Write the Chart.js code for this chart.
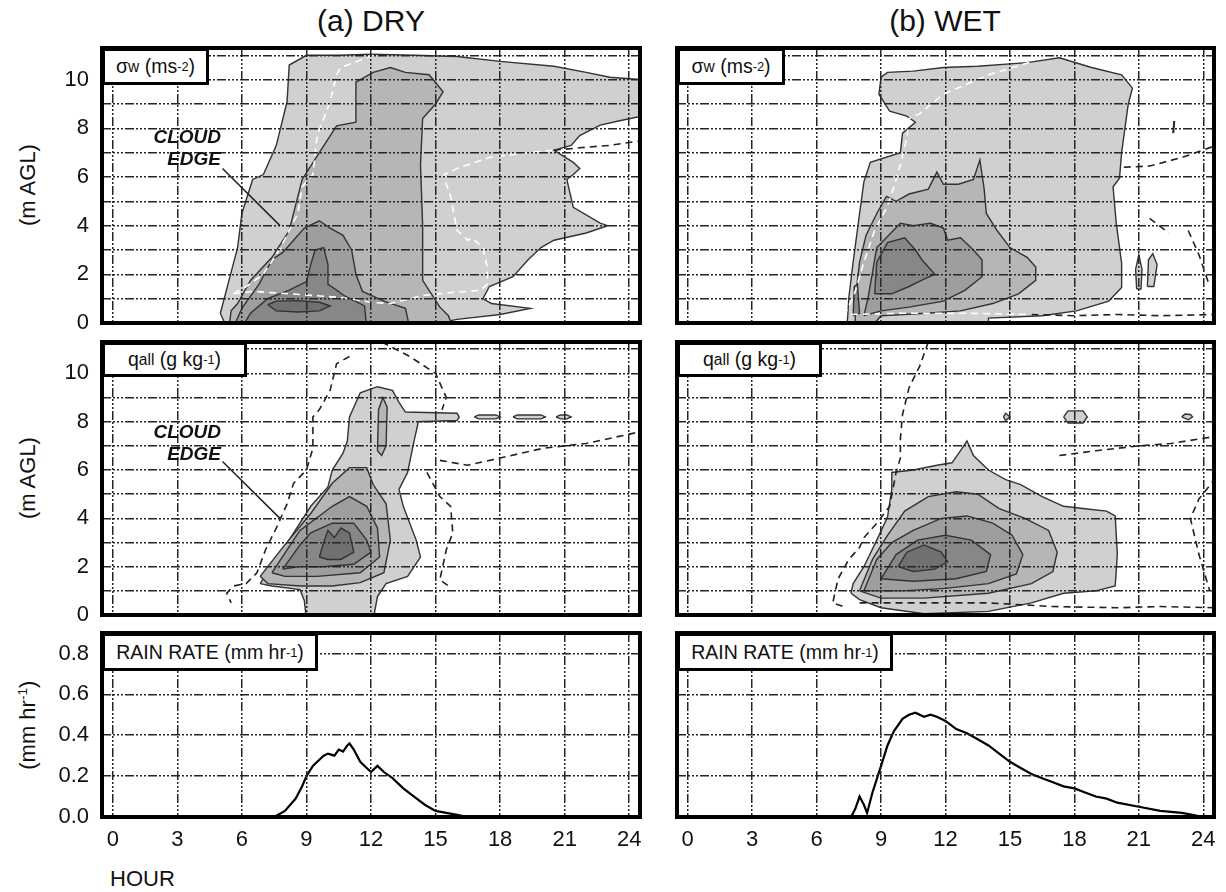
<!DOCTYPE html>
<html>
<head>
<meta charset="utf-8">
<script src="https://cdn.jsdelivr.net/npm/chart.js@4.4.1/dist/chart.umd.min.js"></script>
<style>
  body { margin: 0; background: #fff; width: 1226px; height: 892px; position: relative; overflow: hidden;
         font-family: "Liberation Sans", Arial, sans-serif; color: #111; }
  canvas { position: absolute; }
  .title { position: absolute; font-size: 30px; width: 400px; text-align: center; }
  .ytitle { position: absolute; font-size: 22px; width: 200px; text-align: center; transform: rotate(-90deg); }
  .ytitle sup { font-size: 0.62em; }
  .box { position: absolute; background: #fff; border: 3px solid #000; box-sizing: border-box; z-index: 2;
         font-size: 19.5px; display: flex; align-items: center; justify-content: center; white-space: nowrap; }
  .box sub { font-size: 0.8em; vertical-align: -0.3em; }
  .box sup { font-size: 0.66em; vertical-align: 0.5em; }
  .cloud { position: absolute; font-weight: bold; font-style: italic; font-size: 19px; line-height: 22px;
           text-align: right; width: 90px; z-index: 2; }
  .hour { position: absolute; font-size: 22px; }
</style>
</head>
<body>
<div class="title" style="left:171px;top:4px">(a) DRY</div>
<div class="title" style="left:745px;top:4px">(b) WET</div>
<div class="ytitle" style="left:-72px;top:172px">(m AGL)</div>
<div class="ytitle" style="left:-72px;top:465px">(m AGL)</div>
<div class="ytitle" style="left:-72px;top:712px">(mm hr<sup>-1</sup>)</div>

<div class="box" style="left:102px;top:48px;width:107px;height:37px">σ<sub>w</sub>&nbsp;(ms<sup>-2</sup>)</div>
<div class="box" style="left:677px;top:48px;width:108px;height:37px">σ<sub>w</sub>&nbsp;(ms<sup>-2</sup>)</div>
<div class="box" style="left:102px;top:342px;width:145px;height:35px">q<sub>all</sub>&nbsp;(g kg<sup>-1</sup>)</div>
<div class="box" style="left:677px;top:342px;width:145px;height:35px">q<sub>all</sub>&nbsp;(g kg<sup>-1</sup>)</div>
<div class="box" style="left:102px;top:633px;width:216px;height:38px">RAIN RATE (mm hr<sup>-1</sup>)</div>
<div class="box" style="left:677px;top:633px;width:216px;height:38px">RAIN RATE (mm hr<sup>-1</sup>)</div>

<div class="cloud" style="left:131px;top:126px">CLOUD<br>EDGE</div>
<div class="cloud" style="left:131px;top:421px">CLOUD<br>EDGE</div>
<div class="hour" style="left:110px;top:866px">HOUR</div>

<canvas id="sigDry" style="left:0;top:40px" width="660" height="290"></canvas>
<canvas id="sigWet" style="left:660px;top:40px" width="566" height="290"></canvas>
<canvas id="qDry" style="left:0;top:334px" width="660" height="288"></canvas>
<canvas id="qWet" style="left:660px;top:334px" width="566" height="288"></canvas>
<canvas id="rainDryC" style="left:0;top:625px" width="660" height="240"></canvas>
<canvas id="rainWetC" style="left:660px;top:625px" width="566" height="240"></canvas>

<script>
// axes
const xTicks = [0, 3, 6, 9, 12, 15, 18, 21, 24];
const zTicks = [0, 1, 2, 3, 4, 5, 6, 7, 8, 9, 10, 11];
const rainTicks = [0, 0.2, 0.4, 0.6, 0.8];

// rain rate (mm/hr) vs hour
const rainHoursDry = [0, 7.0, 7.5, 8.0, 8.5, 8.8, 9.0, 9.3, 9.6, 9.8, 10.0, 10.3, 10.5, 10.7, 10.9, 11.0, 11.2, 11.5, 11.8, 12.0, 12.3, 12.6, 13.0, 13.5, 14.0, 14.5, 15.0, 15.5, 16.0, 16.5, 24];
const rainDry      = [0, 0, 0, 0.03, 0.09, 0.15, 0.2, 0.25, 0.28, 0.3, 0.31, 0.3, 0.33, 0.32, 0.35, 0.36, 0.33, 0.27, 0.24, 0.22, 0.25, 0.22, 0.19, 0.14, 0.1, 0.06, 0.03, 0.02, 0.01, 0, 0];
const rainHoursWet = [0, 7.6, 7.8, 8.0, 8.2, 8.35, 8.6, 9.0, 9.3, 9.6, 10.0, 10.3, 10.6, 11.0, 11.3, 11.6, 12.0, 12.5, 13.0, 13.5, 14.0, 14.5, 15.0, 15.5, 16.0, 16.5, 17.0, 17.5, 18.0, 18.5, 19.0, 19.5, 20.0, 21.0, 22.0, 23.0, 23.5, 24];
const rainWet      = [0, 0, 0.04, 0.1, 0.06, 0.02, 0.12, 0.25, 0.35, 0.42, 0.48, 0.5, 0.51, 0.49, 0.5, 0.49, 0.47, 0.43, 0.41, 0.38, 0.35, 0.31, 0.27, 0.24, 0.21, 0.19, 0.17, 0.15, 0.14, 0.12, 0.1, 0.09, 0.07, 0.05, 0.03, 0.02, 0.01, 0];

// contour polygons [hour, height km], outer level first
const sigDryL1 = [[5.3,-0.2],[5.0,0.4],[5.4,1.75],[5.8,3.1],[6.0,4.5],[6.5,5.9],[7.0,6.1],[7.6,7.3],[8.1,9.1],[8.2,10.6],[9.0,11.0],[10.5,11.0],[12.0,11.05],[14,11.0],[16,10.95],[18,10.75],[20.5,10.55],[22,10.3],[23.1,10.1],[24.6,10.0],[24.6,8.5],[23.5,8.3],[22.65,8.13],[21.7,7.7],[21.3,7.3],[20.5,7.1],[21.4,6.6],[21.7,6.35],[21.4,6.1],[21.1,5.9],[21.4,4.75],[22.65,4.1],[23.0,4.0],[22.0,3.7],[20.5,3.4],[19.9,3.1],[19.3,2.6],[18.6,1.9],[17.5,1.5],[17.2,1.0],[17.6,0.8],[19.4,0.6],[18,0.35],[16,0.15],[14,-0.2]];
const sigDryL2 = [[5.4,-0.2],[5.5,0.5],[5.8,0.8],[6.4,1.75],[7.4,2.7],[8.2,3.8],[8.8,5.9],[9.6,7.0],[10.4,8.1],[11.3,8.25],[11.3,9.9],[12.1,10.3],[12.9,10.5],[13.6,10.3],[14.7,10.2],[15.35,9.5],[15.0,9.0],[14.4,8.4],[14.3,6.5],[14.4,4.0],[14.4,1.75],[15.2,0.65],[15.6,0.3],[15.8,-0.2]];
const sigDryCol = [[12.7,2.0],[12.6,5.0],[12.8,8.3],[13.0,8.6],[13.2,8.2],[13.3,5.0],[13.2,2.5],[13.0,2.0]];
const sigDryL3 = [[5.6,-0.2],[6.0,0.6],[6.8,1.6],[7.4,2.6],[7.9,2.9],[8.3,3.3],[8.9,3.9],[9.6,4.2],[10.1,3.9],[10.7,3.6],[11.1,3.0],[11.3,2.0],[11.6,1.3],[12.6,0.9],[13.6,0.6],[13.8,-0.2]];
const sigDryL4 = [[6.0,-0.2],[6.4,0.4],[7.2,1.0],[8.2,1.35],[9.0,1.7],[9.2,2.4],[9.4,3.0],[9.8,3.1],[10.0,2.4],[10.0,1.6],[10.8,1.1],[11.7,0.7],[11.8,-0.2]];
const sigDryL5 = [[7.2,0.75],[7.6,0.9],[8.6,0.92],[9.6,0.85],[10.1,0.7],[9.6,0.5],[8.6,0.45],[7.6,0.5]];
const sigDryEdgeA = [[12.1,11.0],[10.6,10.5],[10.4,10.2],[10.1,9.1],[9.5,7.7],[9.3,6.1],[8.8,5.6],[8.6,4.5],[7.8,3.1],[7.0,2.0],[6.2,1.5],[5.6,1.2]];
const sigDryEdgeB = [[5.6,1.2],[6.5,1.3],[8.2,1.2],[10.6,1.05],[12.1,0.84],[12.9,0.8],[14.4,1.13],[15.7,1.25],[17.1,1.34],[17.4,1.6],[17.4,2.3],[17.2,3.1],[16.7,3.5],[16.5,3.4],[16.0,3.8],[15.7,5.2],[15.5,5.7],[15.4,6.1],[16.0,6.35],[17.5,6.8],[19.3,7.0],[20.5,7.1]];
const sigDryDashA = [[20.5,7.1],[21.7,7.2],[23.1,7.3],[24.6,7.5]];

const sigWetL1 = [[7.4,-0.2],[7.45,0.3],[7.5,1.05],[7.7,2.5],[8.0,4.5],[8.2,5.8],[8.5,6.6],[9.9,7.0],[10.0,7.8],[10.6,8.25],[10.2,8.5],[9.4,8.7],[8.9,9.4],[9.0,10.1],[9.3,10.3],[10.5,10.35],[11.9,10.5],[13.5,10.55],[15.8,10.7],[17.3,10.9],[18.8,10.5],[20.2,10.2],[20.7,9.65],[20.5,8.95],[20.2,7.0],[20.1,5.95],[19.8,5.6],[19.95,4.1],[20.2,2.45],[20.2,1.46],[19.6,0.9],[18.1,0.5],[16.5,0.3],[14,0.2],[14,-0.2]];
const sigWetL2 = [[7.8,-0.2],[7.8,1.0],[8.0,2.5],[8.3,3.6],[8.8,4.5],[9.25,5.2],[9.7,5.0],[10.3,5.3],[11.2,5.5],[11.6,6.2],[11.9,5.7],[12.6,5.7],[13.3,5.9],[13.6,6.7],[13.8,5.5],[13.9,4.5],[14.4,3.8],[15.0,3.1],[15.8,2.7],[16.2,2.3],[16.2,1.75],[15.4,1.2],[14.2,0.8],[12.7,0.5],[11.1,0.4],[9.0,0.3],[8.5,-0.2]];
const sigWetL3 = [[8.2,0.3],[8.4,1.05],[8.8,3.1],[9.9,4.1],[10.5,4.0],[11.3,4.1],[11.9,3.9],[12.1,3.4],[12.7,3.5],[13.3,3.0],[13.7,2.6],[13.7,1.9],[12.9,1.34],[11.9,0.9],[10.3,0.65],[9.0,0.5]];
const sigWetL4 = [[8.7,1.2],[8.8,2.5],[9.3,3.3],[10.1,3.5],[10.6,3.0],[10.9,2.6],[11.5,2.0],[11.0,1.8],[10.3,1.5],[9.5,1.2]];
const sigWetCol = [[7.7,0.3],[7.75,1.5],[7.9,1.6],[8.0,0.4]];
const sigWetIsleA = [[20.9,1.4],[20.85,2.2],[21.0,2.8],[21.15,2.2],[21.1,1.4]];
const sigWetIsleB = [[21.4,1.5],[21.45,2.6],[21.65,2.85],[21.85,2.4],[21.7,1.5]];
const sigWetMark = [[22.6,7.8],[22.65,8.3]];
const sigWetEdgeA = [[15.9,10.7],[14.0,10.2],[11.9,9.4],[10.8,8.6],[10.3,8.4],[10.2,7.6],[9.9,6.5],[9.6,5.6],[9.3,4.8],[8.7,3.8],[8.2,2.5],[7.8,1.3],[7.4,0.5]];
const sigWetEdgeB = [[7.6,0.35],[10,0.4],[13,0.4],[16,0.35]];
const sigWetDashA = [[16,0.35],[18,0.3],[20,0.35],[22,0.3],[24.6,0.35]];
const sigWetDashB = [[20.3,6.4],[21.5,6.45],[23,6.8],[24.6,7.3]];
const sigWetDashC = [[21.5,4.3],[22.4,3.7]];
const sigWetDashD = [[23.3,3.8],[23.8,2.8],[24.3,1.5]];

const qDryL1 = [[6.85,1.3],[7.2,1.8],[7.9,2.7],[9.2,4.5],[10.0,5.3],[10.2,6.0],[10.7,6.7],[10.9,7.2],[11.0,8.2],[11.5,9.2],[12.3,9.45],[13.0,9.3],[13.3,8.8],[13.6,8.4],[16.0,8.35],[16.1,8.2],[16.0,8.05],[14.2,8.0],[14.0,7.2],[13.7,5.9],[13.3,5.2],[13.5,4.5],[14.1,3.1],[14.3,2.4],[13.7,1.6],[12.7,1.3],[12.3,0.76],[12.1,-0.2],[9.0,-0.2],[8.9,0.6],[8.7,1.05],[7.4,1.2]];
const qDryL2 = [[6.85,1.6],[7.9,2.8],[9.2,4.2],[10.2,5.45],[11.0,6.1],[11.8,6.1],[12.1,5.4],[12.7,4.6],[12.9,3.1],[12.6,1.75],[11.5,1.34],[10.2,1.2],[8.7,1.2],[7.2,1.3]];
const qDryCol = [[12.3,6.8],[12.35,8.5],[12.55,9.0],[12.75,8.6],[12.7,7.0],[12.5,6.6]];
const qDryL3 = [[7.4,1.75],[8.7,3.5],[10.2,4.5],[11.0,4.9],[11.8,4.5],[12.3,3.6],[12.4,2.4],[11.5,1.75],[9.5,1.6],[8.0,1.6]];
const qDryL4 = [[7.9,1.9],[8.7,2.9],[9.2,3.4],[10.2,3.8],[11.2,3.8],[11.8,3.1],[12.0,2.6],[11.2,2.1],[9.8,2.0],[8.7,2.0]];
const qDryL5 = [[9.6,2.4],[9.8,3.0],[10.0,3.5],[10.3,3.2],[10.6,3.6],[11.0,3.4],[11.2,2.6],[10.6,2.3],[10.0,2.3]];
const qDryIsleA = [[16.8,8.2],[17.0,8.28],[17.8,8.28],[18.0,8.2],[17.8,8.12],[17.0,8.12]];
const qDryIsleB = [[18.6,8.2],[18.8,8.28],[19.9,8.28],[20.1,8.2],[19.9,8.12],[18.8,8.12]];
const qDryIsleC = [[20.6,8.2],[20.8,8.28],[21.1,8.28],[21.3,8.2],[21.1,8.12],[20.8,8.12]];
const qDryDashA = [[11.0,10.7],[10.4,10.4],[10.1,9.3],[9.6,8.5],[9.3,8.2],[9.3,6.9],[9.0,6.0],[8.4,5.45],[8.1,4.6],[7.6,3.6],[7.1,2.7],[6.7,1.75],[6.2,1.3],[5.6,1.2],[5.3,0.9],[5.5,0.5]];
const qDryDashB = [[14.6,5.9],[15.2,4.9],[15.7,4.5],[15.8,3.4],[15.5,2.7],[15.2,1.46],[15.6,1.2]];
const qDryDashC = [[15.2,6.4],[16.5,6.2],[18,6.5],[20,6.9],[22,7.1],[24.6,7.6]];
const qDryDashD = [[12.5,11.3],[13.8,10.7],[15.0,10.0],[15.5,9.0],[15.3,8.5]];

const qWetL1 = [[7.6,0.9],[7.7,1.3],[8.2,2.0],[8.8,3.1],[9.3,4.05],[9.5,5.2],[9.5,5.9],[10.5,6.0],[11.6,6.2],[12.3,6.3],[12.7,6.8],[13.0,7.2],[13.3,6.6],[14.0,6.0],[14.8,5.6],[15.5,5.4],[16.5,4.9],[17.5,4.5],[18.5,4.4],[19.5,4.3],[19.9,4.1],[20.0,2.5],[19.9,1.2],[19.0,1.0],[17.5,0.9],[16.0,0.5],[14.0,0.15],[11.0,0.05],[9.0,0.3],[8.0,0.64]];
const qWetL2 = [[8.0,1.0],[8.6,2.3],[9.3,3.3],[10.1,4.3],[11.2,4.9],[12.5,5.1],[13.5,5.0],[14.5,4.4],[15.7,4.0],[16.8,3.5],[17.2,2.6],[17.0,1.8],[16.0,1.3],[14.0,0.9],[11.0,0.7],[9.0,0.7]];
const qWetL3 = [[8.2,1.0],[8.8,2.3],[9.5,3.0],[10.5,3.5],[11.8,4.0],[13.0,4.1],[14.2,3.8],[15.1,3.3],[15.6,2.5],[15.3,1.7],[14.0,1.3],[12.0,1.1],[10.0,1.0]];
const qWetL4 = [[9.0,1.5],[9.7,2.5],[10.7,3.1],[12.0,3.3],[13.2,3.1],[14.1,2.5],[13.9,1.8],[12.5,1.5],[10.5,1.4]];
const qWetL5 = [[9.8,2.0],[10.2,2.6],[11.0,2.9],[11.8,2.6],[12.1,2.2],[11.5,1.9],[10.5,1.8]];
const qWetIsleA = [[14.7,8.2],[14.8,8.35],[15.0,8.2],[14.8,8.05]];
const qWetIsleB = [[17.5,8.2],[17.7,8.45],[18.4,8.45],[18.6,8.2],[18.4,7.95],[17.7,7.95]];
const qWetIsleC = [[23.0,8.2],[23.15,8.32],[23.4,8.3],[23.5,8.2],[23.3,8.08]];
const qWetDashA = [[11.2,11.3],[10.8,10.3],[10.3,9.4],[10.0,8.3],[9.9,7.3],[9.9,6.5],[9.7,5.9],[9.4,4.5],[8.8,3.8],[8.2,3.2],[8.0,2.8],[7.5,2.3],[7.0,1.5],[6.75,0.5],[7.4,0.3]];
const qWetDashB = [[8.0,0.5],[11,0.5],[14,0.5],[17,0.35],[20,0.3],[22,0.35],[24.6,0.3]];
const qWetDashC = [[17.3,6.6],[19,6.8],[21,7.0],[22.5,7.1],[24.6,7.4]];
const qWetDashD = [[24.6,5.7],[23.8,4.8],[23.4,4.0],[23.8,2.5],[24.3,1.0]];

// annotation leader lines (hour, height)
const edgeLeader = [[5.1, 6.35], [7.77, 4.0]];

const grays = ['#d0d0d0', '#b6b6b6', '#9e9e9e', '#878787', '#707070'];
const gridDash = [9, 2, 2, 2, 2, 2, 2, 2];
const fontFam = '"Liberation Sans", Arial, sans-serif';

function pts(arr) { return arr.map(p => ({ x: p[0], y: p[1] })); }

function area(poly, level) {
    return { data: pts(poly.concat([poly[0]])), fill: 'shape', backgroundColor: grays[level],
             borderColor: '#333', borderWidth: 1.4, pointRadius: 0, order: -level };
}
function dashed(line, color) {
    return { data: pts(line), fill: false, borderColor: color, borderWidth: 1.6, borderDash: [7, 5],
             pointRadius: 0, order: -50 };
}
function solid(line, width) {
    return { data: pts(line), fill: false, borderColor: '#222', borderWidth: width, pointRadius: 0, order: -60 };
}

const frame = {
    id: 'frame',
    afterDraw(chart) {
        const a = chart.chartArea, c = chart.ctx;
        c.save();
        c.lineWidth = 4;
        c.strokeStyle = '#000';
        c.strokeRect(a.left, a.top, a.right - a.left, a.bottom - a.top);
        c.restore();
    }
};

function noPad(s) { s.paddingTop = 0; s.paddingBottom = 0; s.paddingLeft = 0; s.paddingRight = 0; }

function panel(id, datasets, o) {
    const axisGrid = { color: '#262626', lineWidth: 1.5, drawTicks: false, z: 1 };
    new Chart(document.getElementById(id).getContext('2d'), {
        type: 'line',
        data: { datasets: datasets },
        options: {
            responsive: false,
            animation: false,
            events: [],
            layout: { padding: { left: 0, top: 8, right: o.padR, bottom: o.padB } },
            plugins: { legend: { display: false }, tooltip: { enabled: false } },
            scales: {
                x: {
                    type: 'linear', min: -0.5, max: 24.5,
                    afterBuildTicks: s => { s.ticks = xTicks.map(v => ({ value: v })); },
                    afterFit: s => { s.height = o.xh; noPad(s); },
                    grid: axisGrid,
                    border: { display: false, dash: gridDash },
                    ticks: { display: o.xh > 0, autoSkip: false, maxRotation: 0, padding: 10, color: '#111',
                             font: { size: 22, family: fontFam } }
                },
                y: {
                    type: 'linear', min: 0, max: o.yMax,
                    afterBuildTicks: s => { s.ticks = o.yTicks.map(v => ({ value: v })); },
                    afterFit: s => { s.width = o.yw; noPad(s); },
                    grid: axisGrid,
                    border: { display: false, dash: gridDash },
                    ticks: { display: o.showY, autoSkip: false, padding: 13, color: '#111',
                             font: { size: 22, family: fontFam }, callback: o.yLabel }
                }
            }
        },
        plugins: [frame]
    });
}

const zLabel = v => (v % 2 === 0 && v <= 10) ? String(v) : '';
const rLabel = v => v.toFixed(1);
const left = { yw: 102, padR: 20, showY: true };
const right = { yw: 17, padR: 12, showY: false };
const upper = { xh: 0, padB: 7, yMax: 11.3, yTicks: zTicks, yLabel: zLabel };
const lower = { xh: 48, padB: 0, yMax: 0.9, yTicks: rainTicks, yLabel: rLabel };

panel('sigDry', [
    area(sigDryL1, 0), area(sigDryL2, 1), area(sigDryCol, 1), area(sigDryL3, 2), area(sigDryL4, 3), area(sigDryL5, 4),
    dashed(sigDryEdgeA, '#fff'), dashed(sigDryEdgeB, '#fff'), dashed(sigDryDashA, '#222'),
    solid(edgeLeader, 1.5)
], Object.assign({}, left, upper));

panel('sigWet', [
    area(sigWetL1, 0), area(sigWetIsleA, 0), area(sigWetIsleB, 0), area(sigWetL2, 1), area(sigWetL3, 2),
    area(sigWetL4, 3), area(sigWetCol, 3),
    dashed(sigWetEdgeA, '#fff'), dashed(sigWetEdgeB, '#fff'), dashed(sigWetDashA, '#222'),
    dashed(sigWetDashB, '#222'), dashed(sigWetDashC, '#222'), dashed(sigWetDashD, '#222'),
    solid(sigWetMark, 2)
], Object.assign({}, right, upper));

panel('qDry', [
    area(qDryL1, 0), area(qDryIsleA, 0), area(qDryIsleB, 0), area(qDryIsleC, 0), area(qDryL2, 1), area(qDryCol, 1),
    area(qDryL3, 2), area(qDryL4, 3), area(qDryL5, 4),
    dashed(qDryDashA, '#222'), dashed(qDryDashB, '#222'), dashed(qDryDashC, '#222'), dashed(qDryDashD, '#222'),
    solid(edgeLeader, 1.5)
], Object.assign({}, left, upper));

panel('qWet', [
    area(qWetL1, 0), area(qWetIsleA, 0), area(qWetIsleB, 0), area(qWetIsleC, 0), area(qWetL2, 1),
    area(qWetL3, 2), area(qWetL4, 3), area(qWetL5, 4),
    dashed(qWetDashA, '#222'), dashed(qWetDashB, '#222'), dashed(qWetDashC, '#222'), dashed(qWetDashD, '#222')
], Object.assign({}, right, upper));

panel('rainDryC', [
    { data: rainHoursDry.map((h, i) => ({ x: h, y: rainDry[i] })), borderColor: '#000', borderWidth: 2.2, pointRadius: 0, fill: false }
], Object.assign({}, left, lower));

panel('rainWetC', [
    { data: rainHoursWet.map((h, i) => ({ x: h, y: rainWet[i] })), borderColor: '#000', borderWidth: 2.2, pointRadius: 0, fill: false }
], Object.assign({}, right, lower));
</script>
</body>
</html>
